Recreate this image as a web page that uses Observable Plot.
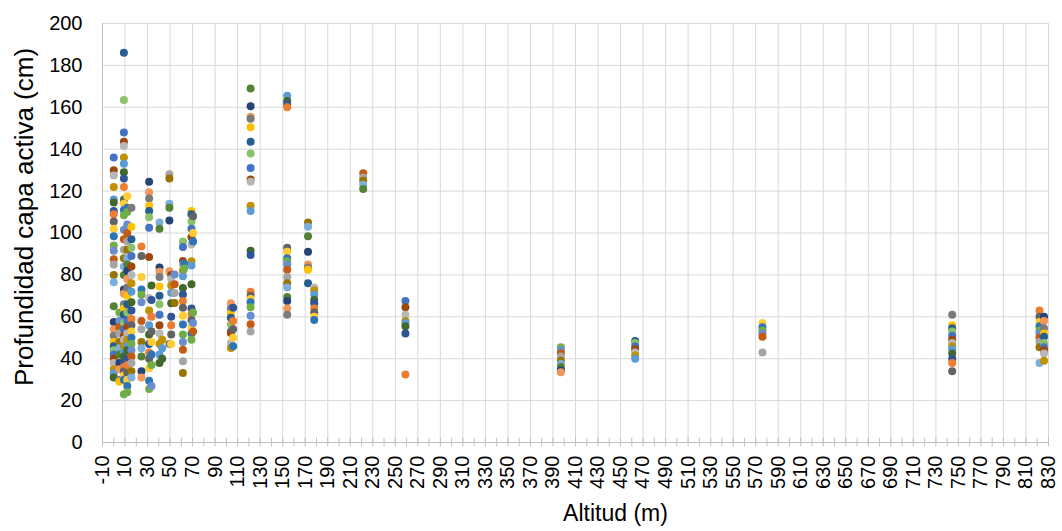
<!DOCTYPE html>
<html>
<head>
<meta charset="utf-8">
<script src="https://cdn.jsdelivr.net/npm/d3@7"></script>
<script src="https://cdn.jsdelivr.net/npm/@observablehq/plot@0.6"></script>
<style>
  html, body { margin: 0; padding: 0; background: #fff; }
  #chart svg { display: block; }
</style>
</head>
<body>
<div id="chart"></div>
<script>
// Altitude (m) of each sampling site
const altitud = [0, 5, 9, 12, 15.7, 24.6, 31.4, 33.5, 40.6, 43, 49.4, 51, 54, 61.4, 62.5, 69, 70.4,
  104, 106, 121.5, 154, 172.5, 178, 221.5, 259, 397, 463, 576, 744.5, 822, 826];

// Active-layer depth (cm) readings at each site (same order as altitud)
const profundidad = [
  [136, 130, 127.5, 122, 116, 114.5, 110.5, 109, 105.5, 102, 98.5, 94, 91.5, 87.5, 85, 80, 76.5, 65, 57.5, 54, 51, 48, 46, 44, 42, 40, 38, 35, 33, 31],
  [62, 58, 55, 52, 48, 45, 42, 38, 35, 30, 29],
  [186, 163.5, 148, 143.5, 141.5, 136, 133, 129, 126, 122, 116, 114, 111, 108.5, 101.5, 97, 92, 88, 84, 80, 73, 71, 66, 64, 61, 57, 54, 51, 49, 46, 43, 41, 38, 36, 34, 32, 30, 23],
  [117.5, 112, 110, 104, 100, 96, 92, 88, 85, 82, 78, 74, 70, 66, 62, 58, 55, 52, 49, 46, 44, 40, 37, 33, 30, 27, 24],
  [112, 103, 97, 93, 89, 84, 80, 76, 72, 67, 63, 59, 56, 53, 50, 47, 44, 41, 38, 34, 31],
  [93.5, 89, 79, 73, 70.5, 67, 58, 54, 48, 45, 41, 34, 31],
  [124.5, 119.5, 116.5, 113, 110.5, 107.5, 102.5, 88.5, 69, 63, 56, 51.5, 47, 43, 40, 35.5, 29.5, 25.5],
  [75, 68, 60, 53, 48, 42, 37, 27],
  [105, 102, 83.5, 81.5, 79, 74.5, 70, 66, 61, 56, 52, 47, 42, 38],
  [49, 45, 40],
  [128, 126, 114, 112, 106, 81.8, 47],
  [80, 78, 75, 71.5, 66.5, 60, 56, 51.5, 47],
  [80.2, 75.5, 71.4, 66.6],
  [96, 93.3, 86.6, 85, 82, 79.4, 73.8, 70.7, 67.5, 64.3, 60.5, 56.3, 51.5, 48, 44.3, 38.8, 33.2],
  [85.5, 83],
  [110.5, 109, 105.5, 102, 98, 94.5, 86.5, 84.5, 75.5, 64, 61.5, 58.5, 55, 52, 49],
  [108, 100, 96, 62, 57, 53],
  [66.5, 64, 61.5, 59.5, 56.3, 53, 52.3, 47.5, 45.1],
  [64.3, 58, 54, 50, 46],
  [169, 160.5, 155.5, 154.5, 150.5, 143.5, 138, 131, 125.5, 124.5, 113, 110.5, 91.5, 89.5, 72, 70, 68.5, 67, 64.5, 60.5, 56.5, 53],
  [165.5, 163, 161.5, 160, 93, 91, 88, 86.5, 85, 82.5, 79, 76, 74, 69.5, 67.5, 64, 61],
  [105, 103, 98.5, 91, 85, 83.5, 82.5, 76],
  [74, 72.5, 70.5, 68, 66.5, 64, 62, 60, 58.5],
  [128.5, 126.5, 125, 123, 121],
  [67.5, 64.5, 61, 58, 57, 55.5, 52, 32.5],
  [45.5, 44, 42.5, 41, 39, 37.5, 36, 34.5, 33.5],
  [48.5, 47.5, 46, 44.5, 43, 41.5, 40],
  [57, 55, 53.5, 52, 50.5, 43],
  [61, 56, 54.5, 53, 51, 49, 47.5, 46, 44.5, 42.5, 40, 38, 34],
  [63, 60, 57.5, 55.5, 53.5, 52, 50, 48, 45.5, 38],
  [60, 58, 54.5, 52, 50.5, 47.5, 45.5, 44, 42.5, 39]
];

// Axis ticks
const xLabelTicks = d3.range(-10, 831, 20);
const xMinorTicks = d3.range(-10, 831, 10);
const yTicks = d3.range(0, 201, 20);

const xTitle = "Altitud (m)";
const yTitle = "Profundidad capa activa (cm)";

// Excel-like series colours
const palette = ["#4472C4","#ED7D31","#A5A5A5","#FFC000","#5B9BD5","#70AD47",
  "#264478","#9E480E","#636363","#997300","#255E91","#43682B",
  "#698ED0","#F1975A","#B7B7B7","#FFCD33","#7CAFDD","#8CC168",
  "#2F5597","#C55A11","#7B7B7B","#BF9000","#2E75B6","#548235"];

const points = [];
altitud.forEach((a, s) => {
  profundidad[s].forEach((p, i) => {
    points.push({alt: a, depth: p, color: palette[(i * 7 + s * 5) % palette.length]});
  });
});

const chart = Plot.plot({
  width: 1062,
  height: 531,
  marginLeft: 102,
  marginRight: 14,
  marginTop: 23,
  marginBottom: 89,
  style: {fontFamily: "'Liberation Sans', Arial, sans-serif", color: "#404040", background: "#fff"},
  x: {domain: [-10, 830]},
  y: {domain: [0, 200]},
  marks: [
    Plot.gridX(xLabelTicks, {stroke: "#D9D9D9", strokeOpacity: 1}),
    Plot.gridY(yTicks.filter(d => d > 0), {stroke: "#D9D9D9", strokeOpacity: 1}),
    Plot.ruleX(xMinorTicks, {x: d => d, y1: -2, y2: 2, stroke: "#BFBFBF"}),
    Plot.ruleY([0], {stroke: "#BFBFBF"}),
    Plot.ruleX([-10], {stroke: "#BFBFBF"}),
    Plot.axisY({ticks: yTicks, tickSize: 0, tickPadding: 20, tickFormat: d => String(d), fontSize: 20, label: null, fill: "#000"}),
    Plot.axisX({ticks: xLabelTicks, tickSize: 0, tickPadding: 13, tickRotate: -90, tickFormat: d => String(d), fontSize: 20, label: null, fill: "#000"}),
    Plot.dot(points, {x: "alt", y: "depth", r: 4, fill: "color", stroke: null}),
    Plot.text([yTitle], {text: d => d, frameAnchor: "left", textAnchor: "middle", rotate: -90, dx: -78, dy: -16, fontSize: 26, fill: "#000", style: "letter-spacing:3.4px"}),
    Plot.text([xTitle], {text: d => d, frameAnchor: "bottom", textAnchor: "middle", dx: 40, dy: 78, fontSize: 23, fill: "#000", style: "letter-spacing:1.5px"})
  ]
});
document.getElementById("chart").appendChild(chart);
</script>
</body>
</html>
